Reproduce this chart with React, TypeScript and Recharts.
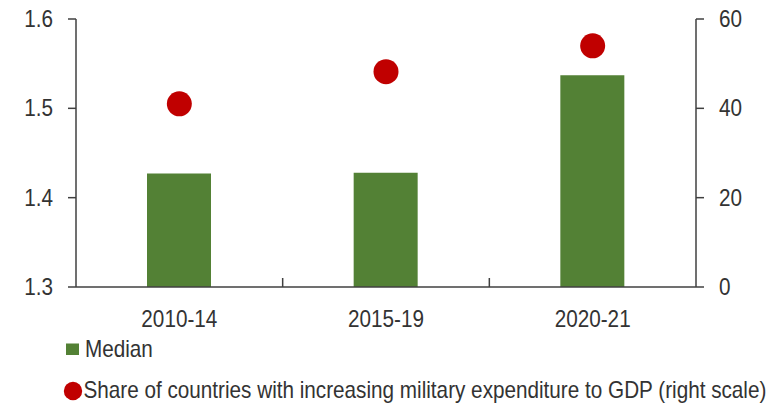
import React from 'react';
import { ComposedChart, Bar, Line, XAxis, YAxis, Legend } from 'recharts';

const categories = ['2010-14', '2015-19', '2020-21'];
const medianValues = [1.427, 1.428, 1.537];
const shareValues = [41, 48.2, 54];
const leftTicks = [1.3, 1.4, 1.5, 1.6];
const rightTicks = [0, 20, 40, 60];
const legendLabels = ['Median', 'Share of countries with increasing military expenditure to GDP (right scale)'];

const data = categories.map((c, i) => ({ period: c, median: medianValues[i], share: shareValues[i] }));

const FONT = '"Liberation Sans", Arial, sans-serif';
const FS = 23;
const SX = 0.9;
const TEXT = '#333333';
const AXIS = '#404040';
const GREEN = '#538135';
const RED = '#C00000';

const NarrowText = ({ x, y, anchor, children }: any) => (
  <text
    transform={`translate(${x},${y}) scale(${SX},1)`}
    textAnchor={anchor}
    fontFamily={FONT}
    fontSize={FS}
    fill={TEXT}
  >
    {children}
  </text>
);

const XTick = (props: any) => {
  const { x, y, payload, index } = props;
  const half = payload && payload.offset ? payload.offset : 0;
  return (
    <g>
      <NarrowText x={x} y={y + 40} anchor="middle">{payload.value}</NarrowText>
      {index < categories.length - 1 && (
        <line x1={x + half} x2={x + half} y1={y} y2={y - 9} stroke={AXIS} strokeWidth={1.5} />
      )}
    </g>
  );
};

const YTick = (props: any) => {
  const { x, y, payload, textAnchor, fmt } = props;
  const label = fmt ? fmt(payload.value) : String(payload.value);
  return <NarrowText x={x} y={y + 8} anchor={textAnchor}>{label}</NarrowText>;
};

const LegendContent = () => (
  <svg width={781} height={76} style={{ display: 'block' }}>
    <rect x={66} y={16.5} width={13} height={11.5} fill={GREEN} />
    <NarrowText x={85} y={29.7} anchor="start">{legendLabels[0]}</NarrowText>
    <circle cx={73} cy={64} r={9.2} fill={RED} />
    <NarrowText x={83.5} y={70.7} anchor="start">{legendLabels[1]}</NarrowText>
  </svg>
);

export default function App() {
  return (
    <div style={{ position: 'absolute', left: 0, top: 0, background: '#fff' }}>
      <ComposedChart width={781} height={403} data={data} margin={{ top: 19, right: 0, bottom: 0, left: 0 }}>
        <XAxis
          dataKey="period"
          tick={<XTick />}
          tickLine={false}
          tickSize={0}
          tickMargin={0}
          height={40}
          axisLine={{ stroke: AXIS, strokeWidth: 1.5 }}
          interval={0}
        />
        <YAxis
          yAxisId="left"
          orientation="left"
          domain={[1.3, 1.6]}
          ticks={leftTicks}
          width={76}
          tickSize={8}
          tickMargin={15}
          axisLine={{ stroke: AXIS, strokeWidth: 1.5 }}
          tickLine={{ stroke: AXIS, strokeWidth: 1.5 }}
          tick={<YTick fmt={(v: number) => v.toFixed(1)} />}
          allowDataOverflow
        />
        <YAxis
          yAxisId="right"
          orientation="right"
          domain={[0, 60]}
          ticks={rightTicks}
          width={85}
          tickSize={8}
          tickMargin={15}
          axisLine={{ stroke: AXIS, strokeWidth: 1.5 }}
          tickLine={{ stroke: AXIS, strokeWidth: 1.5 }}
          tick={<YTick />}
        />
        <Legend verticalAlign="bottom" height={76} content={<LegendContent />} wrapperStyle={{ left: 0, width: 781 }} />
        <Bar yAxisId="left" dataKey="median" name={legendLabels[0]} fill={GREEN} barSize={64} isAnimationActive={false} />
        <Line
          yAxisId="right"
          dataKey="share"
          name={legendLabels[1]}
          stroke="none"
          strokeWidth={0}
          dot={{ r: 12.5, fill: RED, stroke: 'none', strokeWidth: 0 }}
          activeDot={false}
          isAnimationActive={false}
        />
      </ComposedChart>
    </div>
  );
}
